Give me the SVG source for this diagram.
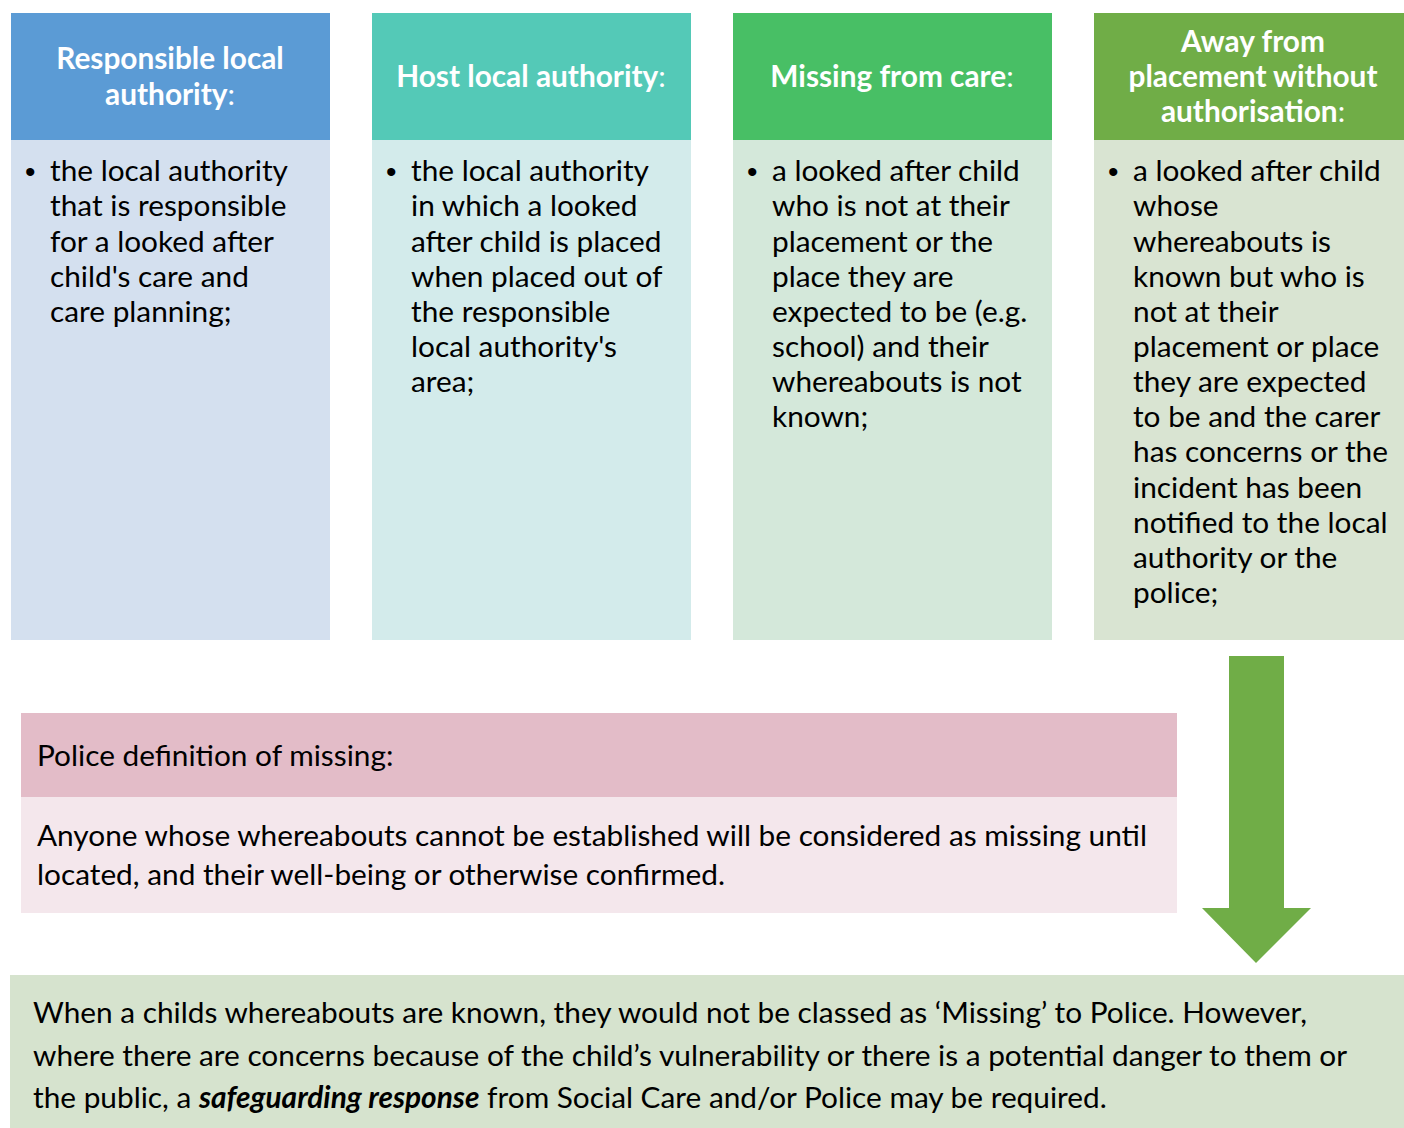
<svg xmlns="http://www.w3.org/2000/svg" width="1404" height="1128" viewBox="0 0 1404 1128">
<style>
.hd{font-family:Lato,"Open Sans","Liberation Sans",sans-serif;font-weight:bold;font-size:29.8px;fill:#fff;text-anchor:middle}
.bd{font-family:Lato,"Open Sans","Liberation Sans",sans-serif;font-size:29.8px;fill:#000}
.bl{font-family:"Liberation Sans",sans-serif;font-size:30px;fill:#000}
</style>
<rect width="1404" height="1128" fill="#fff"/>
<g id="col1">
<rect x="11" y="13" width="319" height="127" fill="#5B9BD5"/>
<rect x="11" y="140" width="319" height="500" fill="#D4E0EF"/>
<text class="hd"><tspan x="170" y="69">Responsible local</tspan><tspan x="170" y="105">authority<tspan font-weight="normal">:</tspan></tspan></text>
<text class="bl" x="25" y="182">•</text>
<text class="bd"><tspan x="50" y="181">the local authority</tspan><tspan x="50" y="216">that is responsible</tspan><tspan x="50" y="252">for a looked after</tspan><tspan x="50" y="287">child's care and</tspan><tspan x="50" y="322">care planning;</tspan></text>
</g>
<g id="col2">
<rect x="372" y="13" width="319" height="127" fill="#54C9B7"/>
<rect x="372" y="140" width="319" height="500" fill="#D3EBEB"/>
<text class="hd" x="531" y="87">Host local authority<tspan font-weight="normal">:</tspan></text>
<text class="bl" x="386" y="182">•</text>
<text class="bd"><tspan x="411" y="181">the local authority</tspan><tspan x="411" y="216">in which a looked</tspan><tspan x="411" y="252">after child is placed</tspan><tspan x="411" y="287">when placed out of</tspan><tspan x="411" y="322">the responsible</tspan><tspan x="411" y="357">local authority's</tspan><tspan x="411" y="392">area;</tspan></text>
</g>
<g id="col3">
<rect x="733" y="13" width="319" height="127" fill="#48BF65"/>
<rect x="733" y="140" width="319" height="500" fill="#D4E8DA"/>
<text class="hd" x="892" y="87">Missing from care<tspan font-weight="normal">:</tspan></text>
<text class="bl" x="747" y="182">•</text>
<text class="bd"><tspan x="772" y="181">a looked after child</tspan><tspan x="772" y="216">who is not at their</tspan><tspan x="772" y="252">placement or the</tspan><tspan x="772" y="287">place they are</tspan><tspan x="772" y="322">expected to be (e.g.</tspan><tspan x="772" y="357">school) and their</tspan><tspan x="772" y="392">whereabouts is not</tspan><tspan x="772" y="427">known;</tspan></text>
</g>
<g id="col4">
<rect x="1094" y="13" width="310" height="127" fill="#70AD47"/>
<rect x="1094" y="140" width="310" height="500" fill="#D9E4D2"/>
<text class="hd"><tspan x="1253" y="52">Away from</tspan><tspan x="1253" y="87">placement without</tspan><tspan x="1253" y="122">authorisation<tspan font-weight="normal">:</tspan></tspan></text>
<text class="bl" x="1108" y="182">•</text>
<text class="bd"><tspan x="1133" y="181">a looked after child</tspan><tspan x="1133" y="216">whose</tspan><tspan x="1133" y="252">whereabouts is</tspan><tspan x="1133" y="287">known but who is</tspan><tspan x="1133" y="322">not at their</tspan><tspan x="1133" y="357">placement or place</tspan><tspan x="1133" y="392">they are expected</tspan><tspan x="1133" y="427">to be and the carer</tspan><tspan x="1133" y="462">has concerns or the</tspan><tspan x="1133" y="498">incident has been</tspan><tspan x="1133" y="533">notified to the local</tspan><tspan x="1133" y="568">authority or the</tspan><tspan x="1133" y="603">police;</tspan></text>
</g>
<g id="police">
<rect x="21" y="713" width="1156" height="84" fill="#E3BCC8"/>
<rect x="21" y="797" width="1156" height="116" fill="#F4E7EC"/>
<text class="bd" x="37" y="766">Police definition of missing:</text>
<text class="bd"><tspan x="37" y="846">Anyone whose whereabouts cannot be established will be considered as missing until</tspan><tspan x="37" y="885">located, and their well-being or otherwise confirmed.</tspan></text>
</g>
<g id="connectors">
<polygon points="1229,656 1284,656 1284,908 1311,908 1256,963 1202,908 1229,908" fill="#70AD47"/>
</g>
<g id="summary">
<rect x="10" y="975" width="1394" height="153" fill="#D6E3CE"/>
<text class="bd"><tspan x="33" y="1023">When a childs whereabouts are known, they would not be classed as ‘Missing’ to Police. However,</tspan><tspan x="33" y="1066">where there are concerns because of the child’s vulnerability or there is a potential danger to them or</tspan><tspan x="33" y="1108">the public, a <tspan font-weight="bold" font-style="italic">safeguarding response</tspan> from Social Care and/or Police may be required.</tspan></text>
</g>
</svg>
